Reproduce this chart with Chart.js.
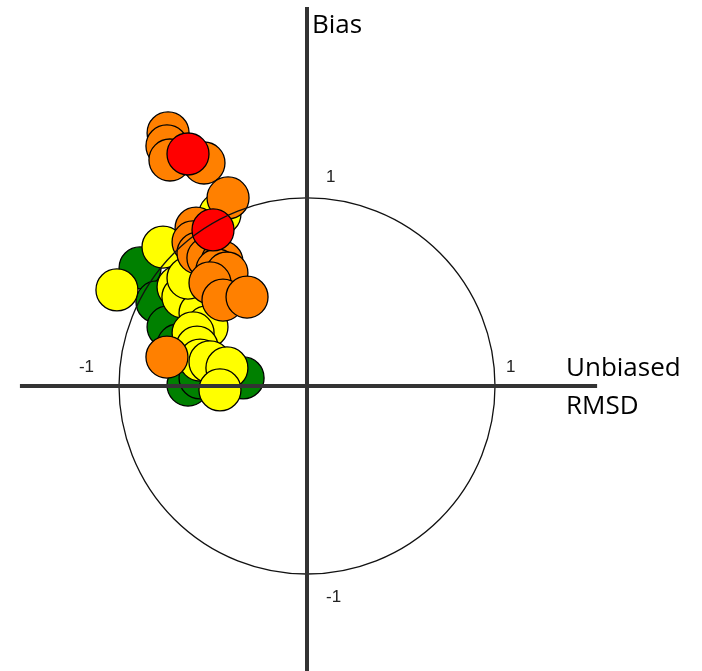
<!DOCTYPE html>
<html>
<head>
<meta charset="utf-8">
<script src="https://cdn.jsdelivr.net/npm/chart.js@4/dist/chart.umd.min.js"></script>
<style>
  html, body { margin: 0; padding: 0; background: #ffffff; }
  #wrap { width: 702px; height: 671px; position: relative; }
</style>
</head>
<body>
<div id="wrap"><canvas id="target"></canvas></div>
<script>
// Target diagram: unbiased RMSD (x) against bias (y), normalised units
const redPoints = [
  [-0.633, 1.234], [-0.500, 0.830]
];
const orangePoints = [
  [-0.739, 1.346], [-0.745, 1.277], [-0.729, 1.202], [-0.548, 1.186],
  [-0.420, 1.000], [-0.590, 0.840], [-0.606, 0.766], [-0.580, 0.707],
  [-0.527, 0.681], [-0.452, 0.660], [-0.479, 0.617], [-0.426, 0.601],
  [-0.516, 0.548], [-0.447, 0.457], [-0.319, 0.473], [-0.745, 0.154]
];
const yellowPoints = [
  [-0.463, 0.915], [-0.766, 0.739], [-1.011, 0.511], [-0.686, 0.527],
  [-0.660, 0.473], [-0.569, 0.388], [-0.532, 0.314], [-0.606, 0.282],
  [-0.585, 0.207], [-0.569, 0.138], [-0.516, 0.128], [-0.426, 0.096],
  [-0.463, -0.021], [-0.633, 0.574]
];
const greenPoints = [
  [-0.888, 0.628], [-0.798, 0.447], [-0.739, 0.314], [-0.686, 0.218],
  [-0.633, 0.005], [-0.340, 0.043], [-0.569, 0.043]
];
const xTicks = [-1, 1];
const yTicks = [1, -1];
const xTitle = ['Unbiased', 'RMSD'];
const yTitle = 'Bias';

const toXY = arr => arr.map(p => ({ x: p[0], y: p[1] }));

function markerSet(points, fill) {
  return {
    data: toXY(points),
    backgroundColor: fill,
    borderColor: '#000000',
    borderWidth: 1.3,
    pointRadius: 21,
    pointHoverRadius: 21,
    showLine: false
  };
}

// unit circle, cross-hair axes and their labels, painted over the markers
const targetOverlay = {
  id: 'targetOverlay',
  afterDatasetsDraw(chart) {
    const { ctx, scales } = chart;
    const sx = scales.x, sy = scales.y;
    const cx = sx.getPixelForValue(0), cy = sy.getPixelForValue(0);
    const rx = sx.getPixelForValue(1) - cx;
    const ry = cy - sy.getPixelForValue(1);

    ctx.save();
    ctx.strokeStyle = '#111111';
    ctx.lineWidth = 1.3;
    ctx.beginPath();
    ctx.ellipse(cx, cy, rx, ry, 0, 0, Math.PI * 2);
    ctx.stroke();

    ctx.strokeStyle = '#333333';
    ctx.lineWidth = 4;
    ctx.beginPath();
    ctx.moveTo(sx.getPixelForValue(-1.527), cy);
    ctx.lineTo(sx.getPixelForValue(1.543), cy);
    ctx.moveTo(cx, sy.getPixelForValue(2.016));
    ctx.lineTo(cx, sy.getPixelForValue(-1.52));
    ctx.stroke();

    ctx.fillStyle = '#222222';
    ctx.font = '17px "Liberation Sans", Arial, sans-serif';
    ctx.textBaseline = 'middle';
    xTicks.forEach(v => {
      const px = sx.getPixelForValue(v);
      ctx.textAlign = v > 0 ? 'left' : 'right';
      ctx.fillText(String(v), v > 0 ? px + 11 : px - 25, cy - 19);
    });
    yTicks.forEach(v => {
      const py = sy.getPixelForValue(v);
      ctx.textAlign = 'left';
      ctx.fillText(String(v), cx + 19, v > 0 ? py - 21 : py + 23);
    });

    ctx.fillStyle = '#000000';
    ctx.font = '26px "Open Sans", "Noto Sans", sans-serif';
    ctx.textAlign = 'left';
    ctx.fillText(yTitle, cx + 5, 26);
    ctx.fillText(xTitle[0], 566, cy - 17);
    ctx.fillText(xTitle[1], 566, cy + 21);
    ctx.restore();
  }
};

new Chart(document.getElementById('target'), {
  type: 'scatter',
  data: {
    // first dataset is painted last, so red sits on top and green at the bottom
    datasets: [
      markerSet(redPoints, '#FF0000'),
      markerSet(orangePoints, '#FF8000'),
      markerSet(yellowPoints, '#FFFF00'),
      markerSet(greenPoints, '#008000')
    ]
  },
  options: {
    responsive: true,
    maintainAspectRatio: false,
    animation: false,
    layout: { padding: 0, autoPadding: false },
    plugins: { legend: { display: false }, tooltip: { enabled: false } },
    scales: {
      x: { type: 'linear', min: -1.633, max: 2.101, display: false },
      y: { type: 'linear', min: -1.516, max: 2.053, display: false }
    }
  },
  plugins: [targetOverlay]
});
</script>
</body>
</html>
